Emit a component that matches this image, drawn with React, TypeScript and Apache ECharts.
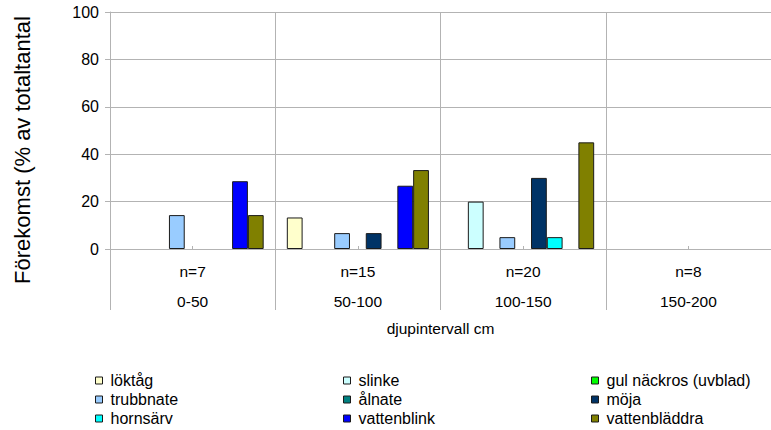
import React, { useEffect, useRef } from "react";
import * as echarts from "echarts";

// Depth intervals and sample counts per interval
const depthIntervals = ["0-50", "50-100", "100-150", "150-200"];
const sampleCounts = ["n=7", "n=15", "n=20", "n=8"];

// Occurrence (% of total) per species, one value per depth interval
const speciesNames = [
  "löktåg",
  "slinke",
  "gul näckros (uvblad)",
  "trubbnate",
  "ålnate",
  "möja",
  "hornsärv",
  "vattenblink",
  "vattenbläddra",
];
const loktag = [0, 13.3, 0, 0];
const slinke = [0, 0, 20, 0];
const gulNackros = [0, 0, 0, 0];
const trubbnate = [14.3, 6.7, 5, 0];
const alnate = [0, 0, 0, 0];
const moja = [0, 6.7, 30, 0];
const hornsarv = [0, 0, 5, 0];
const vattenblink = [28.6, 26.7, 0, 0];
const vattenbladdra = [14.3, 33.3, 45, 0];
const speciesValues = [loktag, slinke, gulNackros, trubbnate, alnate, moja, hornsarv, vattenblink, vattenbladdra];

const speciesColors = [
  "#ffffcc",
  "#ccffff",
  "#00ff00",
  "#99ccff",
  "#008080",
  "#003366",
  "#00ffff",
  "#0000ff",
  "#808000",
];

const yTicks = { min: 0, max: 100, interval: 20 };
const yTitle = "Förekomst (% av totaltantal";
const xTitle = "djupintervall cm";

const FONT = '"Liberation Sans", Arial, sans-serif';
const GRID_GRAY = "#b3b3b3";

export default function App() {
  const ref = useRef<HTMLDivElement>(null);

  useEffect(() => {
    if (!ref.current) return;
    const chart = echarts.init(ref.current, undefined, { renderer: "svg" });

    const series = speciesNames.map((name, i) => ({
      name,
      type: "bar" as const,
      barGap: "0%",
      barCategoryGap: "14%",
      itemStyle: { color: speciesColors[i], borderColor: "#1a1a1a", borderWidth: 1 },
      data: speciesValues[i].map((v) => (v === 0 ? { value: 0, itemStyle: { borderWidth: 0 } } : v)),
    }));

    // Legend laid out row by row in three columns
    const columns = [0, 1, 2].map((c) => [0, 1, 2].map((r) => speciesNames[r * 3 + c]));
    const columnLeft = [95, 343, 591];
    const legends = columns.map((names, c) => ({
      data: names,
      orient: "vertical" as const,
      left: columnLeft[c],
      top: 371,
      padding: 0,
      itemGap: 0,
      itemWidth: 7,
      itemHeight: 7,
      icon: "rect",
      itemStyle: { borderColor: "#1a1a1a", borderWidth: 1 },
      textStyle: { fontFamily: FONT, fontSize: 16, color: "#000", lineHeight: 19, padding: [0, 0, 0, 3] },
      selectedMode: false,
    }));

    chart.setOption({
      animation: false,
      backgroundColor: "#fff",
      grid: { left: 110, top: 12, bottom: 181, right: -8, containLabel: false },
      legend: legends,
      xAxis: [
        {
          type: "category",
          data: depthIntervals,
          axisLine: { show: true, lineStyle: { color: GRID_GRAY, width: 1 } },
          axisTick: { show: true, length: 61, lineStyle: { color: GRID_GRAY, width: 1 } },
          splitLine: { show: true, lineStyle: { color: GRID_GRAY, width: 1 } },
          axisLabel: {
            interval: 0,
            margin: 7,
            fontFamily: FONT,
            fontSize: 15.5,
            color: "#000",
            lineHeight: 30,
            formatter: (val: string, idx: number) => `${sampleCounts[idx]}\n${val}`,
          },
          name: xTitle,
          nameLocation: "middle",
          nameGap: 62,
          nameTextStyle: { fontFamily: FONT, fontSize: 15.5, color: "#000" },
        },
        {
          // small inner marks at each interval's centre
          type: "category",
          data: depthIntervals,
          position: "bottom",
          axisLine: { show: false },
          axisTick: { show: true, alignWithLabel: true, inside: true, length: 3, lineStyle: { color: GRID_GRAY } },
          axisLabel: { show: false },
          splitLine: { show: false },
        },
      ],
      yAxis: {
        type: "value",
        min: yTicks.min,
        max: yTicks.max,
        interval: yTicks.interval,
        axisLine: { show: true, lineStyle: { color: GRID_GRAY, width: 1 } },
        axisTick: { show: true, length: 5, lineStyle: { color: GRID_GRAY, width: 1 } },
        splitLine: { show: true, lineStyle: { color: GRID_GRAY, width: 1 } },
        axisLabel: { margin: 11, fontFamily: FONT, fontSize: 16, color: "#000" },
      },
      graphic: [
        {
          type: "text",
          x: 22,
          y: 150,
          rotation: Math.PI / 2,
          style: {
            text: yTitle,
            fontFamily: FONT,
            fontSize: 22,
            fill: "#000",
            align: "center",
            verticalAlign: "middle",
          },
        },
      ],
      series,
    });

    return () => chart.dispose();
  }, []);

  return (
    <div
      ref={ref}
      style={{ position: "absolute", left: 0, top: 0, width: 771, height: 430, background: "#fff" }}
    />
  );
}
